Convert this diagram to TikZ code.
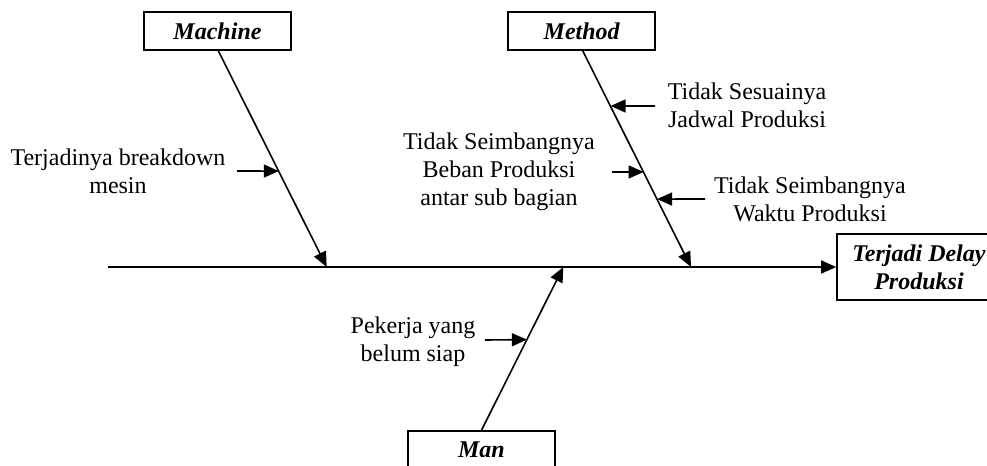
\documentclass[tikz,border=0pt]{standalone}
\usepackage{fontspec}
\setmainfont{Liberation Serif}
\usetikzlibrary{arrows.meta,calc}
\begin{document}
\begin{tikzpicture}[x=0.5pt,y=-0.5pt,
  bone/.style={line width=0.8pt},
  tipped/.style={bone,-{Triangle[length=7.5pt,width=6.5pt]}},
  catbox/.style={draw,line width=0.8pt,minimum width=73.5pt,minimum height=19pt,inner sep=0pt,
     font=\fontsize{12}{14}\selectfont\bfseries\itshape},
  label/.style={align=center,inner sep=0pt,font=\fontsize{12}{14}\selectfont}]
\useasboundingbox (0,0) rectangle (987,466);
% category boxes
\node[catbox] (machine) at (217.5,31) {Machine};
\node[catbox] (method) at (581.7,31) {Method};
\node[catbox] (man) at (481.5,450) {Man};
\node[catbox,minimum width=82pt,minimum height=33pt,align=center] (effect) at (919,267) {Terjadi Delay\\Produksi};
% spine
\coordinate (tail) at (108,267);
\coordinate (j1) at (326.7,267);
\coordinate (j2) at (691,267);
\coordinate (j3) at (563.3,267);
\draw[tipped] (tail) -- (effect.west);
% bones
\draw[tipped] (machine.south -| 218.3,0) -- (j1);
\draw[tipped] (method.south -| 582.7,0) -- (j2);
\draw[tipped] (man.north) -- (j3);
% cause labels
\node[label] (c1) at (118,171) {Terjadinya breakdown\\mesin};
\node[label] (c2) at (747,105) {Tidak Sesuainya\\Jadwal Produksi};
\node[label] (c3) at (499,172) {Tidak Seimbangnya\\Beban Produksi\\antar sub bagian};
\node[label] (c4) at (810,199) {Tidak Seimbangnya\\Waktu Produksi};
\node[label] (c5) at (413,342) {Pekerja yang\\belum siap};
% cause arrows
\coordinate (a1) at (237,171);
\coordinate (a2) at (655,106);
\coordinate (a3) at (612,172);
\coordinate (a4) at (705,199);
\coordinate (a5) at (485,340);
\draw[tipped] (a1) -- ($(218.3,50)!0.558!(j1)$);
\draw[tipped] (a2) -- ($(582.7,50)!0.258!(j2)$);
\draw[tipped] (a3) -- ($(582.7,50)!0.562!(j2)$);
\draw[tipped] (a4) -- ($(582.7,50)!0.687!(j2)$);
\draw[tipped] (a5) -- ($(man.north)!0.555!(j3)$);
\end{tikzpicture}
\end{document}
